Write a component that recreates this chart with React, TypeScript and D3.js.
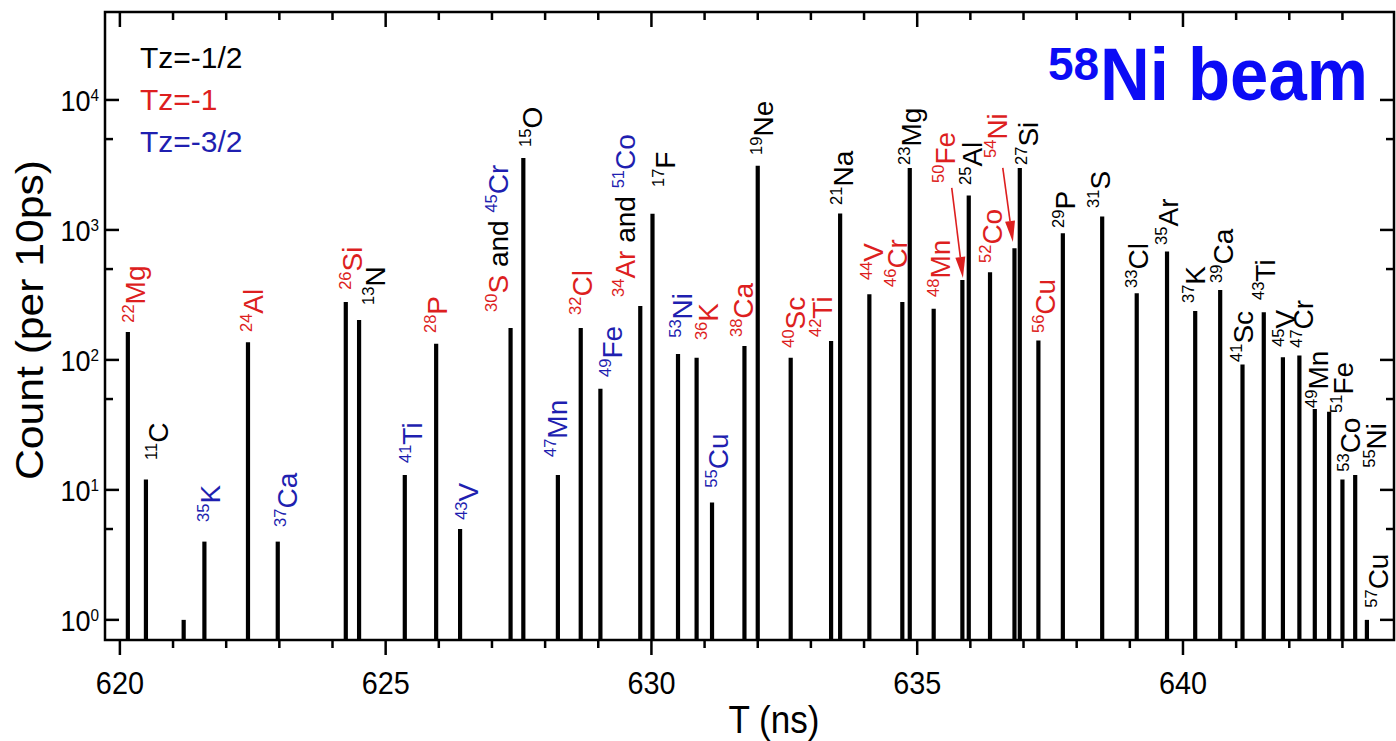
import React from "react";
import * as d3 from "d3";

// Time-of-flight spectrum, 58Ni beam
const W = 1396;
const H = 741;
const LEFT = 105, RIGHT = 1394, TOP = 12, BOTTOM = 640;
const FONT = "'Liberation Sans', Arial, Helvetica, sans-serif";

const tRange = [619.72, 643.97];
const countRange = [0.7, 47500];
const xMajorTicks = [620, 625, 630, 635, 640];
const yMajorTicks = [1, 10, 100, 1000, 10000];
const yMinorTicks = [5, 50, 500, 5000];

// peak positions (ns) and heights (counts per 10 ps)
const peakT = [620.15, 620.49, 621.2, 621.59, 622.41, 622.97, 624.25, 624.5, 625.36, 625.95,
  626.4, 627.35, 627.59, 628.24, 628.67, 629.04, 629.79, 630.02, 630.5, 630.85,
  631.14, 631.75, 632.0, 632.62, 633.38, 633.55, 634.1, 634.72, 634.86, 635.31,
  635.85, 635.97, 636.37, 636.83, 636.93, 637.28, 637.74, 638.48, 639.13, 639.7,
  640.23, 640.7, 641.12, 641.52, 641.88, 642.19, 642.48, 642.75, 643.0, 643.24, 643.46];
const peakCount = [164, 12, 1, 4, 137, 4, 279, 203, 13, 133,
  5, 176, 3580, 13, 176, 60, 260, 1330, 111, 104,
  8, 128, 3120, 104, 140, 1340, 320, 279, 2990, 247,
  412, 1840, 473, 723, 2990, 141, 943, 1270, 326, 681,
  238, 345, 92, 233, 105, 108, 42, 40, 12, 13, 1];

// isotope labels, anchored (text start, baseline) in data units
const labelNames = ["22Mg", "11C", "35K", "24Al", "37Ca", "26Si", "13N", "41Ti", "28P", "43V",
  "30S and 45Cr", "15O", "47Mn", "32Cl", "49Fe", "34Ar and 51Co", "17F", "53Ni", "36K", "55Cu",
  "38Ca", "19Ne", "40Sc", "42Ti", "21Na", "44V", "46Cr", "23Mg", "48Mn", "50Fe",
  "25Al", "52Co", "54Ni", "27Si", "56Cu", "29P", "31S", "33Cl", "35Ar", "37K",
  "39Ca", "41Sc", "43Ti", "45V", "47Cr", "49Mn", "51Fe", "53Co", "55Ni", "57Cu"];
const labelT = [620.47, 620.9, 621.88, 622.69, 623.33, 624.55, 624.99, 625.68, 626.15, 626.74,
  627.3, 627.94, 628.41, 628.88, 629.45, 629.69, 630.44, 630.76, 631.25, 631.44,
  631.91, 632.29, 632.89, 633.4, 633.79, 634.36, 634.81, 635.07, 635.62, 635.71,
  636.22, 636.59, 636.69, 637.27, 637.59, 637.97, 638.63, 639.34, 639.91, 640.41,
  640.94, 641.32, 641.73, 642.11, 642.45, 642.73, 643.2, 643.33, 643.82, 643.86];
const labelC = [193, 17, 5.67, 164, 5.19, 346, 265, 16.1, 161, 5.88,
  234, 4350, 17.9, 222, 74, 305, 2140, 148, 142, 10.4,
  150, 3775, 124, 150, 1557, 412, 364, 3162, 305, 2298,
  2220, 557, 3578, 3162, 161, 1036, 1476, 358, 767, 274,
  391, 96.5, 289, 126, 124, 42.7, 39.1, 13.8, 14.8, 1.24];

// proton numbers, for Tz = (A - 2Z) / 2
const elementZ: Record<string, number> = {
  C: 6, N: 7, O: 8, F: 9, Ne: 10, Na: 11, Mg: 12, Al: 13, Si: 14, P: 15, S: 16, Cl: 17,
  Ar: 18, K: 19, Ca: 20, Sc: 21, Ti: 22, V: 23, Cr: 24, Mn: 25, Fe: 26, Co: 27, Ni: 28, Cu: 29,
};

// arrows pointing at 50Fe and 54Ni
const arrowFromT = [635.65, 636.61];
const arrowFromC = [2104, 2999];
const arrowToT = [635.86, 636.8];
const arrowToC = [427, 809];

const legendNames = ["Tz=-1/2", "Tz=-1", "Tz=-3/2"];
const BLACK = "#000000";
const RED = "#dd1f1f";
const BLUE = "#1f1fb0";
const legendColors = [BLACK, RED, BLUE];

function tzColor(a: number, el: string) {
  const tz = (a - 2 * elementZ[el]) / 2;
  if (tz === -0.5) return BLACK;
  if (tz === -1) return RED;
  return BLUE;
}

function IsoLabel({ name, tx, ty }: { name: string; tx: number; ty: number }) {
  const tokens = name.split(" and ");
  return (
    <text transform={`translate(${tx},${ty}) rotate(-90)`} fontFamily={FONT} style={{ whiteSpace: "pre" }}>
      {tokens.map((tok, i) => {
        const m = tok.match(/^(\d+)(\D+)$/)!;
        const col = tzColor(+m[1], m[2]);
        return (
          <React.Fragment key={i}>
            {i > 0 && <tspan fontSize={28} fill={BLACK}>{" and "}</tspan>}
            <tspan fontSize={16.5} dy={-11} fill={col}>{m[1]}</tspan>
            <tspan fontSize={28} dy={11} fill={col}>{m[2]}</tspan>
          </React.Fragment>
        );
      })}
    </text>
  );
}

export default function App() {
  const x = d3.scaleLinear().domain(tRange).range([LEFT, RIGHT]);
  const y = d3.scaleLog().domain(countRange).range([BOTTOM, TOP]);
  const xMinorTicks = d3.range(620, 644, 1).filter((v) => v % 5 !== 0);

  const arrows = arrowFromT.map((t, i) => {
    const x0 = x(t), y0 = y(arrowFromC[i]);
    const x1 = x(arrowToT[i]), y1 = y(arrowToC[i]);
    const len = Math.hypot(x1 - x0, y1 - y0);
    const ux = (x1 - x0) / len, uy = (y1 - y0) / len;
    const hl = 21, hw = 5;
    const bx = x1 - ux * hl, by = y1 - uy * hl;
    const head = [[x1, y1], [bx - uy * hw, by + ux * hw], [bx + uy * hw, by - ux * hw]];
    return { x0, y0, bx, by, head };
  });

  return (
    <svg width={W} height={H} style={{ position: "absolute", left: 0, top: 0, background: "#fff" }}>
      <rect width={W} height={H} fill="#fff" />

      {/* peaks */}
      <g stroke={BLACK} strokeWidth={4.2}>
        {peakT.map((t, i) => (
          <line key={i} x1={x(t)} x2={x(t)} y1={BOTTOM} y2={y(peakCount[i])} />
        ))}
      </g>

      {/* isotope labels */}
      {labelNames.map((n, i) => (
        <IsoLabel key={n} name={n} tx={x(labelT[i])} ty={y(labelC[i])} />
      ))}

      {/* arrows */}
      {arrows.map((a, i) => (
        <g key={i}>
          <line x1={a.x0} y1={a.y0} x2={a.bx} y2={a.by} stroke={RED} strokeWidth={1.6} />
          <polygon points={a.head.map((p) => p.join(",")).join(" ")} fill={RED} />
        </g>
      ))}

      {/* frame and ticks */}
      <rect x={LEFT} y={TOP} width={RIGHT - LEFT} height={BOTTOM - TOP} fill="none" stroke={BLACK} strokeWidth={2.5} />
      <g stroke={BLACK} strokeWidth={2.5}>
        {xMajorTicks.map((v) => (
          <g key={v}>
            <line x1={x(v)} x2={x(v)} y1={BOTTOM} y2={BOTTOM + 15} />
            <line x1={x(v)} x2={x(v)} y1={TOP} y2={TOP + 15} />
          </g>
        ))}
        {xMinorTicks.map((v) => (
          <g key={v}>
            <line x1={x(v)} x2={x(v)} y1={BOTTOM} y2={BOTTOM + 8} />
            <line x1={x(v)} x2={x(v)} y1={TOP} y2={TOP + 8} />
          </g>
        ))}
        {yMajorTicks.map((v) => (
          <g key={v}>
            <line x1={LEFT} x2={LEFT + 14} y1={y(v)} y2={y(v)} />
            <line x1={RIGHT} x2={RIGHT - 14} y1={y(v)} y2={y(v)} />
          </g>
        ))}
        {yMinorTicks.map((v) => (
          <g key={v}>
            <line x1={LEFT} x2={LEFT + 8} y1={y(v)} y2={y(v)} />
            <line x1={RIGHT} x2={RIGHT - 8} y1={y(v)} y2={y(v)} />
          </g>
        ))}
      </g>

      {/* tick labels */}
      <g fontFamily={FONT} fill={BLACK}>
        {xMajorTicks.map((v) => (
          <text key={v} transform={`translate(${x(v)},694) scale(0.9,1)`} fontSize={32} textAnchor="middle">
            {v}
          </text>
        ))}
        {yMajorTicks.map((v) => (
          <text key={v} transform={`translate(99,${y(v) + 11}) scale(0.9,1)`} textAnchor="end">
            <tspan fontSize={30}>10</tspan>
            <tspan fontSize={17} dy={-10}>{Math.round(Math.log10(v))}</tspan>
          </text>
        ))}
      </g>

      {/* axis titles */}
      <text transform="translate(774,733) scale(0.9,1)" fontFamily={FONT} fontSize={39} textAnchor="middle">
        T (ns)
      </text>
      <text transform="translate(43,320) rotate(-90)" fontFamily={FONT} fontSize={38} textAnchor="middle"
        textLength={320} lengthAdjust="spacingAndGlyphs">
        Count (per 10ps)
      </text>

      {/* legend */}
      {legendNames.map((n, i) => (
        <text key={n} x={140} y={68 + i * 42} fontFamily={FONT} fontSize={30} fill={legendColors[i]}>
          {n}
        </text>
      ))}

      {/* beam title */}
      <text x={1048} y={80} fontFamily={FONT} fontWeight="bold" fontSize={46} fill="#0b0bf5">58</text>
      <text x={1100} y={100} fontFamily={FONT} fontWeight="bold" fontSize={74} fill="#0b0bf5"
        textLength={268} lengthAdjust="spacingAndGlyphs">
        Ni beam
      </text>
    </svg>
  );
}
